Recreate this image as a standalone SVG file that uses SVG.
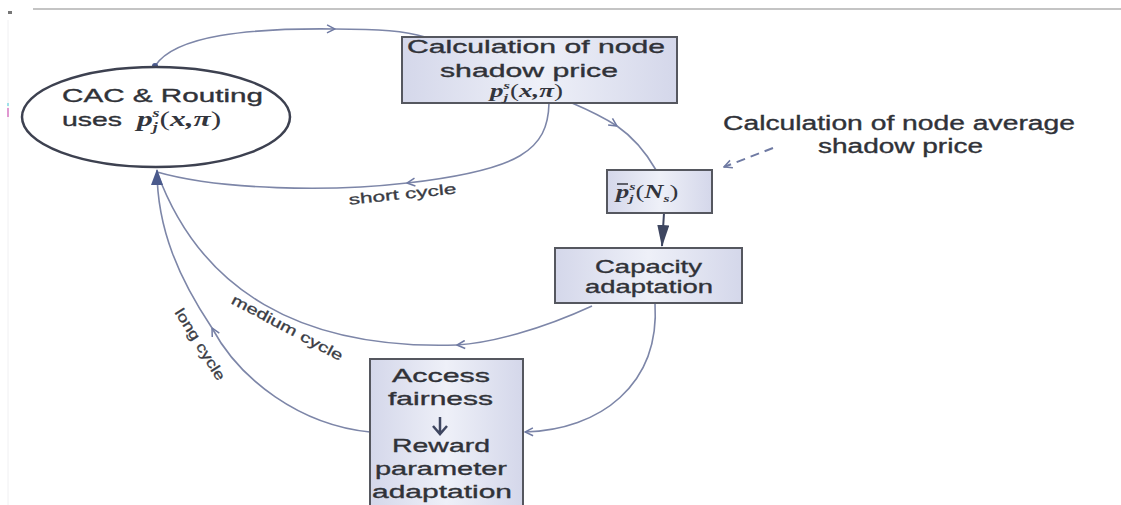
<svg xmlns="http://www.w3.org/2000/svg" width="1121" height="505" viewBox="0 0 1121 505">
<style>
.t{font-family:"Liberation Sans",Arial,sans-serif;fill:#303238;stroke:#303238;stroke-width:0.35;}
.m{font-family:"Liberation Serif","Times New Roman",serif;font-weight:bold;font-style:italic;fill:#33353d;}
.r{font-weight:normal;font-style:normal;}
.box{fill:url(#g);stroke:#55575f;stroke-width:2;}
.c{fill:none;stroke:#7d86a8;stroke-width:1.6;}
.lbl{font-family:"Liberation Sans",Arial,sans-serif;fill:#3a3c44;stroke:#3a3c44;stroke-width:0.3;font-size:14.5px;}
</style>
<defs>
<linearGradient id="g" x1="0" y1="0" x2="1" y2="0">
<stop offset="0" stop-color="#d4d7ea"/>
<stop offset="0.5" stop-color="#eef0f8"/>
<stop offset="1" stop-color="#d4d7ea"/>
</linearGradient>
<marker id="ch" viewBox="0 0 10 10" refX="9" refY="5" markerWidth="10" markerHeight="10" markerUnits="userSpaceOnUse" orient="auto">
<path d="M1,1 L9,5 L1,9" fill="none" stroke="#6f7aa3" stroke-width="1.5"/>
</marker>
<marker id="fa" viewBox="0 0 16 12" refX="15" refY="6" markerWidth="16" markerHeight="12" markerUnits="userSpaceOnUse" orient="auto">
<path d="M0,0 L16,6 L0,12 Z" fill="#4a5a8c"/>
</marker>
<marker id="fb" viewBox="0 0 22 12" refX="21" refY="6" markerWidth="22" markerHeight="12" markerUnits="userSpaceOnUse" orient="auto">
<path d="M0,0 L22,6 L0,12 Z" fill="#3e4660"/>
</marker>
</defs>
<rect width="1121" height="505" fill="#ffffff"/>
<line x1="33" y1="9" x2="1121" y2="9" stroke="#8a8a8a" stroke-width="1.2"/>
<rect x="8" y="11" width="4" height="3" fill="#777"/>
<rect x="7" y="103" width="2" height="3" fill="#4fd0e0"/>
<rect x="7" y="108" width="2" height="9" fill="#d040b0"/>
<line x1="8" y1="20" x2="8" y2="505" stroke="#f0f0f2" stroke-width="1"/>

<g id="connectors">
<path class="c" d="M155,66 C175,35 250,28 335,29" marker-end="url(#ch)"/>
<path class="c" d="M335,29 C380,29 405,31 425,37"/>
<circle cx="155" cy="66" r="3" fill="#4a5a8c"/>
<path class="c" d="M572,103 Q600,115 617,126" marker-end="url(#ch)"/>
<path class="c" d="M617,126 Q640,142 656,170"/>
<path class="c" d="M549,103 C548,150 520,170 407,183" marker-end="url(#ch)"/>
<path class="c" d="M407,183 C330,192 220,190 157,172"/>
<path d="M664,213 L662,246" stroke="#3e4660" stroke-width="2" fill="none" marker-end="url(#fb)"/>
<path d="M773,148 L724,167" stroke="#6f7aa3" stroke-width="2" stroke-dasharray="9,6" fill="none" marker-end="url(#ch)"/>
<path class="c" d="M655,303 C660,385 600,430 525,432" marker-end="url(#ch)"/>
<path class="c" d="M592,306 C540,330 490,343 457,345" marker-end="url(#ch)"/>
<path class="c" d="M457,345 C300,350 200,290 157,172"/>
<path class="c" d="M370,432 C300,425 240,380 212,328" marker-end="url(#ch)"/>
<path class="c" d="M212,328 C180,280 157,230 157,170" marker-end="url(#fa)"/>
<text class="lbl" transform="translate(403,199) rotate(-6)" text-anchor="middle" textLength="108" lengthAdjust="spacingAndGlyphs">short cycle</text>
<text class="lbl" transform="translate(285,332) rotate(28)" text-anchor="middle" textLength="124" lengthAdjust="spacingAndGlyphs">medium cycle</text>
<text class="lbl" transform="translate(196,347) rotate(58)" text-anchor="middle" textLength="82" lengthAdjust="spacingAndGlyphs">long cycle</text>
</g>

<g id="cac">
<ellipse cx="156" cy="117" rx="134" ry="50" fill="#ffffff" stroke="#3d4150" stroke-width="2.5"/>
<text class="t" x="62" y="102" font-size="19" textLength="201" lengthAdjust="spacingAndGlyphs">CAC &amp; Routing</text>
<text class="t" x="62" y="126" font-size="19" textLength="60" lengthAdjust="spacingAndGlyphs">uses</text>
<text class="m" transform="translate(137,126) scale(1.5,1)" font-size="21">p<tspan font-size="12" dy="5">j</tspan><tspan font-size="12" dx="-3.5" dy="-14">s</tspan><tspan class="r" dy="9">(</tspan>x,π<tspan class="r">)</tspan></text>
</g>

<g id="shadow">
<rect class="box" x="402" y="37" width="275" height="66"/>
<text class="t" x="407" y="53" font-size="19" textLength="258" lengthAdjust="spacingAndGlyphs">Calculation of node</text>
<text class="t" x="440" y="77" font-size="19" textLength="178" lengthAdjust="spacingAndGlyphs">shadow price</text>
<text class="m" transform="translate(490,97) scale(1.5,1)" font-size="18">p<tspan font-size="11" dy="4">j</tspan><tspan font-size="11" dx="-3" dy="-12">s</tspan><tspan class="r" dy="8">(</tspan>x,π<tspan class="r">)</tspan></text>
</g>

<g id="avgnote">
<text class="t" x="723" y="130" font-size="20" textLength="352" lengthAdjust="spacingAndGlyphs">Calculation of node average</text>
<text class="t" x="818" y="153" font-size="20" textLength="165" lengthAdjust="spacingAndGlyphs">shadow price</text>
</g>

<g id="avg">
<rect class="box" x="607" y="170" width="105" height="43"/>
<line x1="617" y1="184" x2="628" y2="184" stroke="#33353d" stroke-width="1.5"/>
<text class="m" transform="translate(616,198) scale(1.4,1)" font-size="19">p<tspan font-size="11" dy="4">j</tspan><tspan font-size="11" dx="-3" dy="-12">s</tspan><tspan class="r" dy="8">(</tspan>N<tspan font-size="11" dy="4">s</tspan><tspan class="r" dy="-4">)</tspan></text>
</g>

<g id="capacity">
<rect class="box" x="555" y="248" width="187" height="55"/>
<text class="t" x="595" y="273" font-size="19" textLength="107" lengthAdjust="spacingAndGlyphs">Capacity</text>
<text class="t" x="585" y="293" font-size="19" textLength="128" lengthAdjust="spacingAndGlyphs">adaptation</text>
</g>

<g id="access">
<rect class="box" x="370" y="359" width="153" height="150"/>
<text class="t" x="392" y="382" font-size="19" textLength="98" lengthAdjust="spacingAndGlyphs">Access</text>
<text class="t" x="388" y="405" font-size="19" textLength="105" lengthAdjust="spacingAndGlyphs">fairness</text>
<path d="M440,417 L440,433 M433,426 L440,434 L447,426" fill="none" stroke="#3e4660" stroke-width="2.5"/>
<text class="t" x="392" y="452" font-size="19" textLength="98" lengthAdjust="spacingAndGlyphs">Reward</text>
<text class="t" x="375" y="475" font-size="19" textLength="132" lengthAdjust="spacingAndGlyphs">parameter</text>
<text class="t" x="372" y="498" font-size="19" textLength="140" lengthAdjust="spacingAndGlyphs">adaptation</text>
</g>
</svg>
